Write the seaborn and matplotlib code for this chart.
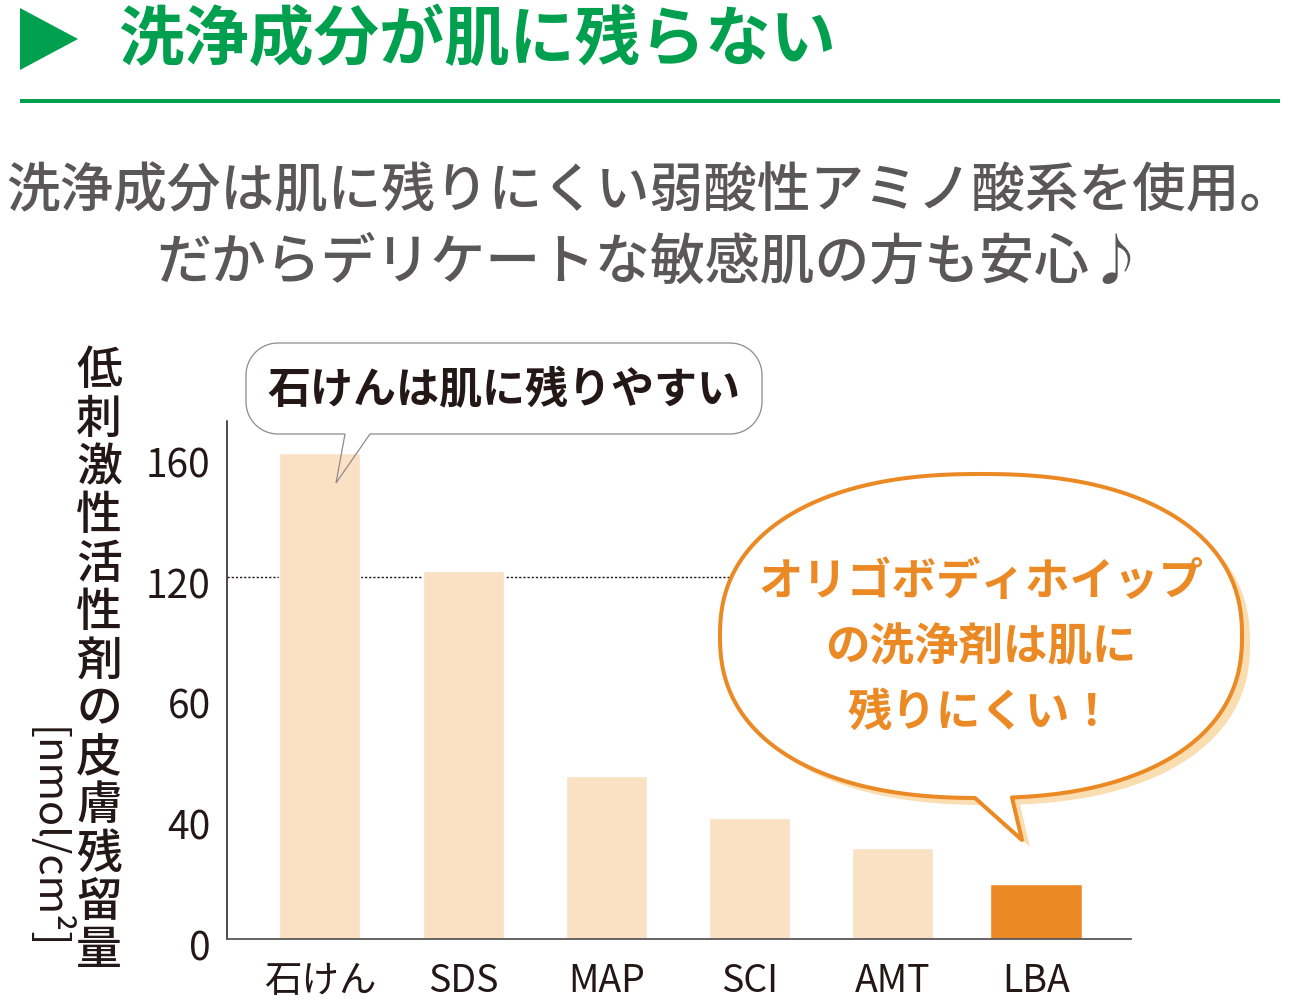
import numpy as np
import pandas as pd
import seaborn as sns
import matplotlib
matplotlib.use("Agg")
import matplotlib.pyplot as plt
from matplotlib.patches import Polygon, Rectangle
from matplotlib.transforms import Affine2D, ScaledTranslation

# ---------------- data ----------------
categories = ["石けん", "SDS", "MAP", "SCI", "AMT", "LBA"]
values = [161, 122, 47, 40, 30, 18]
bar_colors = ["#FAE1C4", "#FAE1C4", "#FAE1C4", "#FAE1C4", "#FAE1C4", "#EB8A25"]
y_ticks = [0, 40, 60, 120, 160]
y_tick_labels = ["0", "40", "60", "120", "160"]
reference_line = 120

title_text = "洗浄成分が肌に残らない"
subtitle_lines = ["洗浄成分は肌に残りにくい弱酸性アミノ酸系を使用。",
                  "だからデリケートな敏感肌の方も安心♪"]
ylabel_text = "低刺激性活性剤の皮膚残留量"
yunit_text = "[nmol/cm²]"
gray_bubble_text = "石けんは肌に残りやすい"
orange_bubble_lines = ["オリゴボディホイップ", "の洗浄剤は肌に", "残りにくい！"]

# ---------------- style ----------------
sns.set_style("white")
plt.rcParams["font.family"] = ["Noto Sans CJK JP", "DejaVu Sans"]

W, H = 1301, 1008
fig = plt.figure(figsize=(W / 100, H / 100), dpi=100)
fig.patch.set_facecolor("white")
PX = Affine2D().scale(1 / W, -1 / H).translate(0, 1) + fig.transFigure

GREEN = "#00A04F"
DARK = "#231815"
GRAY = "#595757"
ORANGE = "#EB8A25"

ax = fig.add_axes([227.3 / W, 1 - 938.7 / H, (1130.7 - 227.3) / W, (938.7 - 421) / H])
ax.patch.set_alpha(0)

df = pd.DataFrame({"cat": categories, "val": values})
sns.barplot(data=df, x="cat", y="val", hue="cat", order=categories, hue_order=categories,
            palette=bar_colors, saturation=1, width=0.566, legend=False, ax=ax, zorder=2)
# highlight bar is wider
last = ax.patches[-1]
cx = last.get_x() + last.get_width() / 2
last.set_width(0.638)
last.set_x(cx - 0.319)

# piecewise-linear axis (equal spacing between the printed ticks)
knots_v = np.array([-40, 0, 40, 60, 120, 160, 200], dtype=float)
knots_i = np.arange(-1, 6, dtype=float)
fwd = lambda v: np.interp(v, knots_v, knots_i)
inv = lambda i: np.interp(i, knots_i, knots_v)
ax.set_yscale("function", functions=(fwd, inv))
ax.set_ylim(0, 171.6)
ax.set_xlim(-0.647, 5.661)

ax.axhline(reference_line, color=DARK, lw=1.0, linestyle=(0, (1.6, 1.4)), zorder=1)

ax.set_yticks(y_ticks)
ax.set_yticklabels(y_tick_labels)
ax.tick_params(axis="y", length=0, pad=12, labelsize=28, labelcolor=DARK)
ax.tick_params(axis="x", length=0, pad=17, labelsize=27, labelcolor=DARK)
shift = ScaledTranslation(0, -6 / 100, fig.dpi_scale_trans)
for lab in ax.get_yticklabels():
    lab.set_transform(lab.get_transform() + shift)
ax.set_xlabel("")
ax.set_ylabel("")
for s in ["top", "right"]:
    ax.spines[s].set_visible(False)
ax.spines["left"].set_color(DARK)
ax.spines["left"].set_linewidth(1.1)
ax.spines["bottom"].set_color(GRAY)
ax.spines["bottom"].set_linewidth(1.3)

# ---------------- header ----------------
fig.add_artist(Polygon([(20, 8), (20, 70), (78, 39)], closed=True, transform=PX,
                       facecolor=GREEN, edgecolor="none"))
fig.text(118, 40, title_text, transform=PX, ha="left", va="center", fontsize=47,
         fontweight="bold", color=GREEN)
fig.add_artist(Rectangle((20, 99), 1260, 4, transform=PX, facecolor=GREEN, edgecolor="none"))
fig.text(650, 192, subtitle_lines[0], transform=PX, ha="center", va="center",
         fontsize=38.6, fontweight="medium", color=GRAY)
fig.text(650, 263, subtitle_lines[1], transform=PX, ha="center", va="center",
         fontsize=39.5, fontweight="medium", color=GRAY)

# ---------------- y label ----------------
for k, ch in enumerate(ylabel_text):
    fig.text(99, 371 + 48.3 * k, ch, transform=PX, ha="center", va="center",
             fontsize=33, fontweight="medium", color=DARK)
fig.text(48, 838, yunit_text, transform=PX, ha="center", va="center", rotation=-90,
         fontsize=30, color=DARK)

# ---------------- gray bubble ----------------
def rounded_bubble(x0, y0, x1, y1, r, xa, xb, tip, n=16):
    pts = []
    for a in np.linspace(np.pi, 1.5 * np.pi, n):
        pts.append((x0 + r + r * np.cos(a), y0 + r + r * np.sin(a)))
    for a in np.linspace(1.5 * np.pi, 2 * np.pi, n):
        pts.append((x1 - r + r * np.cos(a), y0 + r + r * np.sin(a)))
    for a in np.linspace(0, 0.5 * np.pi, n):
        pts.append((x1 - r + r * np.cos(a), y1 - r + r * np.sin(a)))
    pts += [(xb, y1), tip, (xa, y1)]
    for a in np.linspace(0.5 * np.pi, np.pi, n):
        pts.append((x0 + r + r * np.cos(a), y1 - r + r * np.sin(a)))
    return pts

gb = rounded_bubble(246, 343, 762, 434, 32, 345, 370, (336, 483))
fig.add_artist(Polygon(gb, closed=True, transform=PX, facecolor="white",
                       edgecolor="none", zorder=-1))
fig.add_artist(Polygon(gb, closed=True, transform=PX, facecolor="none",
                       edgecolor="#8C8C8C", lw=0.9, zorder=3))
fig.text(504, 390, gray_bubble_text, transform=PX, ha="center", va="center",
         fontsize=31, fontweight="bold", color=DARK, zorder=4)

# ---------------- orange bubble ----------------
def super_bubble(cx, cy, a, b, p, xa, xb, tip, n=400):
    t = np.linspace(0, 2 * np.pi, n, endpoint=False)
    c, s = np.cos(t), np.sin(t)
    xs = cx + a * np.sign(c) * np.abs(c) ** (2 / p)
    ys = cy + b * np.sign(s) * np.abs(s) ** (2 / p)
    def yb(x):
        return cy + b * (1 - np.abs((x - cx) / a) ** p) ** (1 / p)
    pts = []
    inserted = False
    for x, y, sv in zip(xs, ys, s):
        if sv > 0 and xa <= x <= xb:
            if not inserted:
                pts += [(xb, yb(xb)), tip, (xa, yb(xa))]
                inserted = True
            continue
        pts.append((x, y))
    return pts

ob = super_bubble(981, 636, 261, 162, 2.3, 975, 1012, (1022, 840))
shadow = [(x + 8, y + 7) for x, y in ob]
fig.add_artist(Polygon(shadow, closed=True, transform=PX, facecolor="#FBDDB2",
                       edgecolor="none", zorder=1))
fig.add_artist(Polygon(ob, closed=True, transform=PX, facecolor="white",
                       edgecolor=ORANGE, lw=2.9, joinstyle="round", zorder=2))
for k, line in enumerate(orange_bubble_lines):
    fig.text(981, 582 + 65.5 * k, line, transform=PX, ha="center", va="center",
             fontsize=32, fontweight="bold", color=ORANGE, zorder=4)

fig.savefig("out.png", dpi=100, facecolor="white")
